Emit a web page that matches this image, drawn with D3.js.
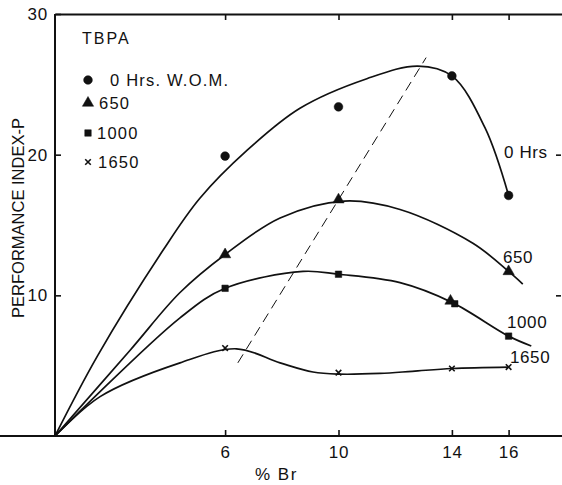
<!DOCTYPE html>
<html><head><meta charset="utf-8">
<script src="https://cdn.jsdelivr.net/npm/d3@7"></script>
<style>
body{margin:0;background:#fff;}
svg{display:block;}
text{font-family:"Liberation Sans",Arial,sans-serif;fill:#111;}
</style></head>
<body>
<svg id="c" width="562" height="485"></svg>
<script>
// ---- data ----
const xTicks = [6, 10, 14, 16];
const yTicks = [10, 20, 30];
const seriesNames = ["0 Hrs. W.O.M.", "650", "1000", "1650"];
const curveLabels = ["0 Hrs", "650", "1000", "1650"];

// measured points
const hrs0X = [6, 10, 14, 16];
const hrs0Y = [19.9, 23.4, 25.6, 17.1];
const h650X = [6, 10, 13.95, 16];
const h650Y = [12.9, 16.8, 9.6, 11.7];
const h1000X = [6, 10, 14.1, 16];
const h1000Y = [10.5, 11.5, 9.4, 7.1];
const h1650X = [6, 10, 14, 16];
const h1650Y = [6.25, 4.5, 4.8, 4.9];

// fitted curves (knots)
const curve0X = [0, 1.5, 3.81, 5.11, 6.77, 8.64, 11.0, 12.8, 14, 15.17, 16];
const curve0Y = [0, 5.7, 13.2, 16.9, 20.3, 23.3, 25.4, 26.3, 25.6, 21.9, 17.1];
const curve650X = [0, 2.65, 4.41, 6, 7.94, 10.2, 12.17, 14.74, 16, 16.5];
const curve650Y = [0, 6.1, 10.2, 12.9, 15.5, 16.7, 16.1, 13.7, 11.7, 10.8];
const curve1000X = [0, 4.41, 6, 8.75, 10, 12.17, 14, 16, 16.8];
const curve1000Y = [0, 8.4, 10.5, 11.7, 11.5, 10.9, 9.5, 7.1, 6.4];
const curve1650X = [0, 1.59, 4.41, 6.4, 7.94, 9.1, 10, 11.46, 12.6, 14, 16];
const curve1650Y = [0, 2.8, 5.2, 6.2, 5.2, 4.55, 4.4, 4.45, 4.6, 4.8, 4.9];

// dashed optimum line
const dashX = [6.45, 13.09];
const dashY = [5.2, 26.9];

// ---- drawing ----
const svg = d3.select("#c");
const x = d3.scaleLinear().domain([0, 18]).range([55, 565.3]);
const y = d3.scaleLinear().domain([0, 30]).range([436, 14]);
const zip = (a, b) => a.map((v, i) => [v, b[i]]);

// axes
const gB = svg.append("g").attr("transform", `translate(0,${y(0)})`)
  .call(d3.axisBottom(x).tickValues(xTicks).tickSizeInner(-6).tickSizeOuter(0).tickPadding(10).tickFormat(d3.format("d")));
const gL = svg.append("g").attr("transform", `translate(${x(0)},0)`)
  .call(d3.axisLeft(y).tickValues(yTicks).tickSizeInner(-6).tickSizeOuter(0).tickPadding(7).tickFormat(d3.format("d")));
const gT = svg.append("g").attr("transform", `translate(0,${y(30)})`)
  .call(d3.axisTop(x).tickValues(xTicks).tickSizeInner(-6).tickSizeOuter(0).tickFormat(""));
const gR = svg.append("g").attr("transform", `translate(561,0)`)
  .call(d3.axisRight(y).tickValues([10, 20]).tickSizeInner(-5).tickSizeOuter(0).tickFormat(""));
[gB, gL, gT, gR].forEach(g => {
  g.selectAll(".domain").attr("stroke", "#111").attr("stroke-width", 2);
  g.selectAll(".tick line").attr("stroke", "#111").attr("stroke-width", 1.6);
  g.selectAll(".tick text").attr("font-size", 17).attr("fill", "#111").attr("letter-spacing", 0.8)
    .attr("font-family", "Liberation Sans, Arial, sans-serif");
});
gL.select(".domain").attr("d", `M0,${y(0)}V${y(30)}`);
gR.select(".domain").remove();
gB.select(".domain").attr("d", `M0,0H${562 - x(0) + x(0)}`);

// axis titles
svg.append("text").attr("x", 255).attr("y", 480).attr("font-size", 17).attr("letter-spacing", 1.5).text("% Br");
svg.append("text").attr("transform", "translate(24,218) rotate(-90)")
  .attr("text-anchor", "middle").attr("font-size", 16.5).text("PERFORMANCE INDEX-P");

// curves
const line = d3.line().x(d => x(d[0])).y(d => y(d[1])).curve(d3.curveCatmullRom.alpha(0.5));
const curves = [zip(curve0X, curve0Y), zip(curve650X, curve650Y), zip(curve1000X, curve1000Y), zip(curve1650X, curve1650Y)];
svg.append("g").selectAll("path").data(curves).join("path")
  .attr("d", line).attr("fill", "none").attr("stroke", "#111").attr("stroke-width", 1.7);

// dashed line
svg.append("path").datum(zip(dashX, dashY))
  .attr("d", d3.line().x(d => x(d[0])).y(d => y(d[1])))
  .attr("stroke", "#111").attr("stroke-width", 1).attr("stroke-dasharray", "10,6").attr("fill", "none");

// markers
const sym = {
  circle: d3.symbol().type(d3.symbolCircle).size(60),
  tri: d3.symbol().type(d3.symbolTriangle).size(55),
  sq: d3.symbol().type(d3.symbolSquare).size(42),
  cross: d3.symbol().type(d3.symbolX).size(22)
};
function marks(xs, ys, s, isCross) {
  svg.append("g").selectAll("path").data(zip(xs, ys)).join("path")
    .attr("transform", d => `translate(${x(d[0])},${y(d[1])})`)
    .attr("d", s)
    .attr("fill", isCross ? "none" : "#111")
    .attr("stroke", "#111").attr("stroke-width", isCross ? 1.6 : 0.5);
}
marks(hrs0X, hrs0Y, sym.circle);
marks(h650X, h650Y, sym.tri);
marks(h1000X, h1000Y, sym.sq);
marks(h1650X, h1650Y, sym.cross, true);

// curve labels
const curveLabelPos = [[504, 158], [503, 263], [507, 328], [510, 363]];
svg.append("g").selectAll("text").data(curveLabels).join("text")
  .attr("x", (d, i) => curveLabelPos[i][0]).attr("y", (d, i) => curveLabelPos[i][1])
  .attr("font-size", 17).attr("letter-spacing", 0.6).text(d => d);

// legend
svg.append("text").attr("x", 82).attr("y", 44).attr("font-size", 16).attr("letter-spacing", 2).text("TBPA");
const legY = [80, 103, 133, 162];
const legSyms = [sym.circle, sym.tri, sym.sq, sym.cross];
const legTextX = [110, 99, 97, 98];
seriesNames.forEach((n, i) => {
  svg.append("path").attr("transform", `translate(88,${legY[i]})`).attr("d", legSyms[i])
    .attr("fill", i === 3 ? "none" : "#111").attr("stroke", "#111").attr("stroke-width", i === 3 ? 1.6 : 0.5);
  svg.append("text").attr("x", legTextX[i]).attr("y", legY[i] + 6).attr("font-size", 16.5)
    .attr("letter-spacing", 1.2).text(n);
});
</script>
</body></html>
